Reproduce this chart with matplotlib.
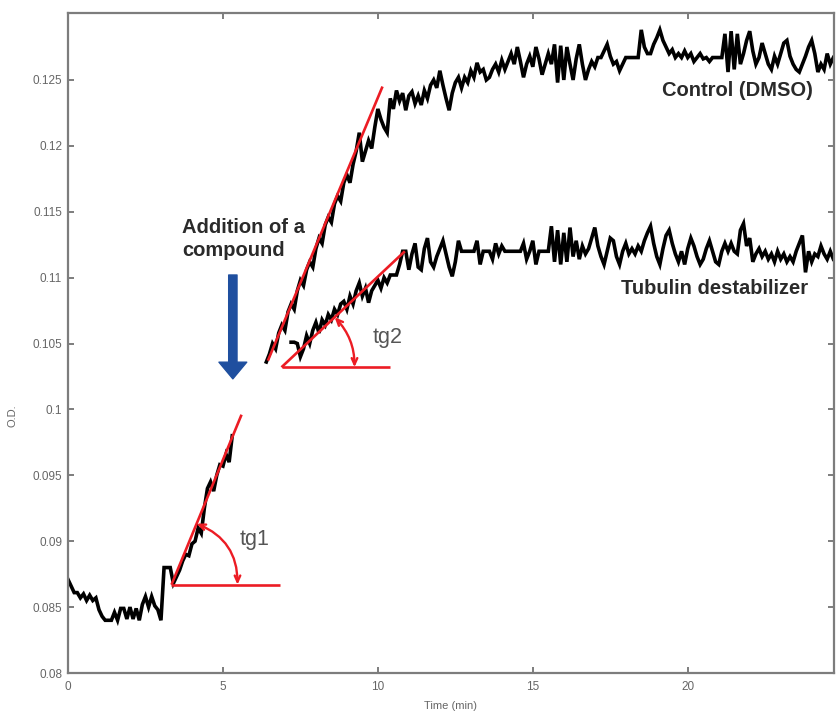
import numpy as np
import matplotlib
matplotlib.use("Agg")
import matplotlib.pyplot as plt
from matplotlib import transforms

plt.rcParams['font.family'] = ['Liberation Sans', 'DejaVu Sans']

# ---------------- data (O.D. readings, time step 0.1 min) ----------------
time_step = 0.1

baseline_t0 = 0.0
baseline_od = [
    0.0871, 0.0866, 0.0861, 0.0861, 0.0857, 0.0860, 0.0855, 0.0859, 0.0855, 0.0857,
    0.0848, 0.0843, 0.0840, 0.0840, 0.0840, 0.0846, 0.0840, 0.0849, 0.0849, 0.0841,
    0.0850, 0.0841, 0.0849, 0.0840, 0.0852, 0.0858, 0.0850, 0.0858, 0.0851, 0.0848,
    0.0840, 0.0880, 0.0880, 0.0880, 0.0868, 0.0873, 0.0878, 0.0885, 0.0890, 0.0889,
    0.0898, 0.0900, 0.0910, 0.0906, 0.0925, 0.0940, 0.0945, 0.0938, 0.0950, 0.0958,
    0.0957, 0.0966, 0.0960, 0.0980,
]

control_t0 = 6.4
control_od = [
    0.1036, 0.1042, 0.1050, 0.1046, 0.1058, 0.1064,
    0.1060, 0.1074, 0.1080, 0.1076, 0.1090, 0.1098, 0.1094, 0.1106, 0.1112, 0.1108,
    0.1122, 0.1130, 0.1126, 0.1140, 0.1146, 0.1142, 0.1156, 0.1162, 0.1158, 0.1172,
    0.1178, 0.1172, 0.1186, 0.1196, 0.1210, 0.1188, 0.1196, 0.1204, 0.1198, 0.1214,
    0.1228, 0.1220, 0.1214, 0.1210, 0.1236, 0.1228, 0.1242, 0.1234, 0.1240, 0.1227,
    0.1238, 0.1241, 0.1232, 0.1238, 0.1231, 0.1242, 0.1236, 0.1246, 0.1250, 0.1244,
    0.1257, 0.1246, 0.1236, 0.1227, 0.1240, 0.1248, 0.1252, 0.1244, 0.1252, 0.1248,
    0.1257, 0.1252, 0.1263, 0.1256, 0.1258, 0.1250, 0.1252, 0.1258, 0.1262, 0.1256,
    0.1265, 0.1258, 0.1264, 0.1270, 0.1262, 0.1275, 0.1264, 0.1252, 0.1262, 0.1268,
    0.1260, 0.1275, 0.1266, 0.1254, 0.1262, 0.1270, 0.1262, 0.1277, 0.1248, 0.1276,
    0.1250, 0.1275, 0.1262, 0.1250, 0.1266, 0.1277, 0.1262, 0.1250, 0.1258, 0.1264,
    0.1260, 0.1267, 0.1267, 0.1272, 0.1277, 0.1268, 0.1262, 0.1264, 0.1257, 0.1262,
    0.1267, 0.1267, 0.1267, 0.1267, 0.1267, 0.1288, 0.1275, 0.1270, 0.1270, 0.1277,
    0.1282, 0.1288, 0.1280, 0.1275, 0.1270, 0.1273, 0.1267, 0.1270, 0.1267, 0.1272,
    0.1267, 0.1270, 0.1264, 0.1267, 0.1270, 0.1266, 0.1267, 0.1264, 0.1267, 0.1267,
    0.1267, 0.1267, 0.1285, 0.1256, 0.1287, 0.1258, 0.1285, 0.1262, 0.1270, 0.1280,
    0.1287, 0.1272, 0.1262, 0.1267, 0.1278, 0.1270, 0.1262, 0.1258, 0.1268, 0.1262,
    0.1270, 0.1278, 0.1280, 0.1268, 0.1262, 0.1258, 0.1256, 0.1262, 0.1268, 0.1275,
    0.1280, 0.1270, 0.1256, 0.1262, 0.1258, 0.1270, 0.1262, 0.1267,
]

tubulin_t0 = 7.2
tubulin_od = [
    0.1051, 0.1051, 0.1050, 0.1040, 0.1046, 0.1056, 0.1050, 0.1060,
    0.1066, 0.1058, 0.1068, 0.1064, 0.1072, 0.1068, 0.1076, 0.1072, 0.1080, 0.1082,
    0.1076, 0.1086, 0.1080, 0.1090, 0.1096, 0.1086, 0.1092, 0.1081, 0.1090, 0.1094,
    0.1098, 0.1092, 0.1100, 0.1096, 0.1102, 0.1102, 0.1102, 0.1110, 0.1120, 0.1120,
    0.1106, 0.1118, 0.1126, 0.1108, 0.1106, 0.1122, 0.1130, 0.1112, 0.1108, 0.1116,
    0.1122, 0.1128, 0.1118, 0.1108, 0.1101, 0.1112, 0.1128, 0.1120, 0.1120, 0.1120,
    0.1120, 0.1120, 0.1128, 0.1110, 0.1120, 0.1120, 0.1120, 0.1114, 0.1126, 0.1118,
    0.1124, 0.1120, 0.1120, 0.1120, 0.1120, 0.1120, 0.1120, 0.1126, 0.1114, 0.1120,
    0.1128, 0.1110, 0.1120, 0.1120, 0.1120, 0.1120, 0.1139, 0.1112, 0.1136, 0.1110,
    0.1134, 0.1112, 0.1138, 0.1116, 0.1128, 0.1114, 0.1124, 0.1118, 0.1122, 0.1130,
    0.1138, 0.1124, 0.1116, 0.1110, 0.1120, 0.1130, 0.1128, 0.1116, 0.1110, 0.1120,
    0.1126, 0.1118, 0.1122, 0.1118, 0.1124, 0.1120, 0.1128, 0.1134, 0.1139, 0.1126,
    0.1116, 0.1110, 0.1122, 0.1132, 0.1136, 0.1126, 0.1118, 0.1112, 0.1120, 0.1110,
    0.1122, 0.1130, 0.1124, 0.1116, 0.1110, 0.1114, 0.1122, 0.1128, 0.1120, 0.1112,
    0.1110, 0.1120, 0.1126, 0.1120, 0.1126, 0.1120, 0.1118, 0.1136, 0.1141, 0.1124,
    0.1130, 0.1112, 0.1118, 0.1122, 0.1116, 0.1120, 0.1114, 0.1118, 0.1112, 0.1120,
    0.1114, 0.1118, 0.1112, 0.1116, 0.1112, 0.1120, 0.1126, 0.1132, 0.1104, 0.1120,
    0.1112, 0.1118, 0.1116, 0.1124, 0.1118, 0.1114, 0.1120, 0.1114,
]

# red tangent / reference lines (time, O.D.)
tangent1_x = [3.34, 5.60]
tangent1_y = [0.0867, 0.0996]
base1_x = [3.34, 6.84]
base1_y = [0.0867, 0.0867]
tangent_ctrl_x = [6.45, 10.15]
tangent_ctrl_y = [0.1037, 0.1245]
tangent2_x = [6.89, 10.87]
tangent2_y = [0.1032, 0.1120]
base2_x = [6.89, 10.39]
base2_y = [0.1032, 0.1032]

x_ticks = [0, 5, 10, 15, 20]
x_extra_tick = 25
y_ticks = [0.08, 0.085, 0.09, 0.095, 0.1, 0.105, 0.11, 0.115, 0.12, 0.125]
y_tick_labels = ['0.08', '0.085', '0.09', '0.095', '0.1', '0.105', '0.11',
                 '0.115', '0.12', '0.125']

# ---------------- figure ----------------
W, H = 836, 715
fig = plt.figure(figsize=(W / 100, H / 100), dpi=100)
ax = fig.add_axes([68 / W, 42 / H, (834 - 68) / W, (673 - 13) / H])
ax.set_xlim(0, 24.72)
ax.set_ylim(0.08, 0.13008)

spine_col = '#7d7d7d'
for s in ax.spines.values():
    s.set_color(spine_col)
    s.set_linewidth(1.6)

ax.set_xticks(x_ticks)
ax.set_xticklabels([str(v) for v in x_ticks])
ax.set_yticks(y_ticks)
ax.set_yticklabels(y_tick_labels)
ax.tick_params(axis='both', direction='in', length=4, width=1.4, color=spine_col,
               labelcolor='#666666', labelsize=8.5, top=True, right=True)
ax.tick_params(axis='x', pad=5.5)
ax.tick_params(axis='y', pad=4.3)
blend = transforms.blended_transform_factory(ax.transData, ax.transAxes)
ax.text(x_extra_tick, -8 / 660, str(x_extra_tick), transform=blend, ha='center',
        va='top', fontsize=8.5, color='#666666', clip_on=False)

ax.set_xlabel('Time (min)', fontsize=8, color='#666666')
ax.xaxis.set_label_coords(0.5, -0.043)
ax.set_ylabel('O.D.', fontsize=8, color='#666666')
ax.yaxis.set_label_coords(-0.066, 0.39)

# ---------------- curves ----------------
def times(t0, vals):
    return t0 + time_step * np.arange(len(vals))

lw = 2.6
ax.plot(times(baseline_t0, baseline_od), baseline_od, color='black', lw=lw,
        solid_joinstyle='miter', zorder=2)
ax.plot(times(control_t0, control_od), control_od, color='black', lw=lw,
        solid_joinstyle='miter', zorder=2)
ax.plot(times(tubulin_t0, tubulin_od), tubulin_od, color='black', lw=lw,
        solid_joinstyle='miter', zorder=2)

red = '#ec1c24'
for xs, ys in [(tangent1_x, tangent1_y), (base1_x, base1_y),
               (tangent_ctrl_x, tangent_ctrl_y), (tangent2_x, tangent2_y),
               (base2_x, base2_y)]:
    ax.plot(xs, ys, color=red, lw=1.9, zorder=3, solid_capstyle='butt')


def angle_arc(vx, vy, ex, ey, r_px):
    v = ax.transData.transform((vx, vy))
    e = ax.transData.transform((ex, ey))
    ang = np.arctan2(e[1] - v[1], e[0] - v[0])
    p1 = v + r_px * np.array([np.cos(ang), np.sin(ang)])
    p2 = v + np.array([r_px, 0.0])
    inv = ax.transData.inverted()
    d1 = inv.transform(p1)
    d2 = inv.transform(p2)
    ax.annotate('', xy=d2, xytext=d1,
                arrowprops=dict(arrowstyle='<->,head_length=0.45,head_width=0.2',
                                connectionstyle='arc3,rad=%.4f' % (-np.tan(ang / 2) / 2),
                                color=red, lw=1.7, shrinkA=0, shrinkB=0),
                zorder=3)


angle_arc(tangent1_x[0], tangent1_y[0], tangent1_x[1], tangent1_y[1], 66)
angle_arc(tangent2_x[0], tangent2_y[0], tangent2_x[1], tangent2_y[1], 73)

# ---------------- annotations ----------------
txt_col = '#2a2a2a'
ax.text(21.61, 0.12423, 'Control (DMSO)', fontsize=14.5, fontweight='bold',
        color=txt_col, ha='center', va='center')
ax.text(20.87, 0.10921, 'Tubulin destabilizer', fontsize=14.5, fontweight='bold',
        color=txt_col, ha='center', va='center')
ax.text(3.68, 0.1145, 'Addition of a\ncompound', fontsize=14.5, fontweight='bold',
        color=txt_col, ha='left', va='top', linespacing=1.22)
ax.text(6.03, 0.0901, 'tg1', fontsize=15.5, color='#555555', ha='center', va='center')
ax.text(10.32, 0.10549, 'tg2', fontsize=15.5, color='#555555', ha='center', va='center')

ax.annotate('', xy=(5.32, 0.10232), xytext=(5.32, 0.1102),
            arrowprops=dict(arrowstyle='simple,head_length=12,head_width=20,tail_width=6',
                            mutation_scale=1, color='#1f4f9f', shrinkA=0, shrinkB=0))

fig.savefig('out.png', dpi=100)
